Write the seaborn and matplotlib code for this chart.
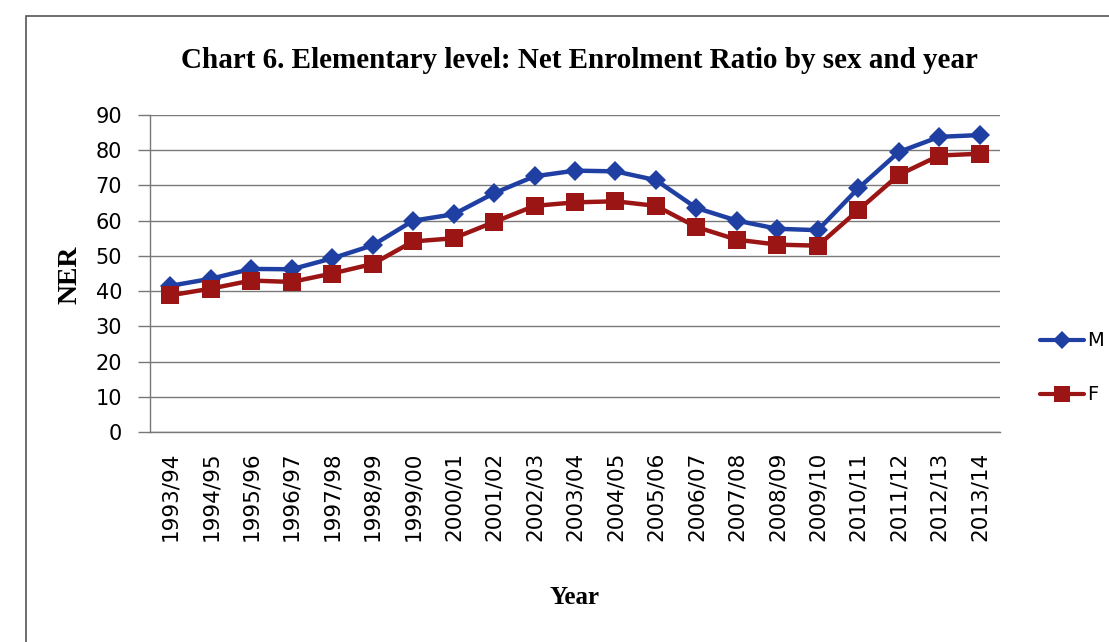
import pandas as pd
import matplotlib
matplotlib.use("Agg")
import matplotlib.pyplot as plt
from matplotlib.patches import Rectangle
import seaborn as sns

# data
years = ["1993/94", "1994/95", "1995/96", "1996/97", "1997/98", "1998/99", "1999/00",
         "2000/01", "2001/02", "2002/03", "2003/04", "2004/05", "2005/06", "2006/07",
         "2007/08", "2008/09", "2009/10", "2010/11", "2011/12", "2012/13", "2013/14"]
ner_m = [41.5, 43.5, 46.3, 46.2, 49.3, 53, 60, 61.8, 67.8, 72.6, 74.2, 74, 71.5, 63.6,
         60, 57.7, 57.3, 69.2, 79.5, 83.8, 84.3]
ner_f = [38.8, 40.7, 43, 42.6, 45, 47.7, 54.1, 55, 59.6, 64.2, 65.2, 65.5, 64.2, 58.2,
         54.6, 53.2, 52.9, 63, 73, 78.5, 79]
y_ticks = [0, 10, 20, 30, 40, 50, 60, 70, 80, 90]

df = pd.DataFrame({
    "Year": years * 2,
    "NER": ner_m + ner_f,
    "Sex": ["M"] * len(years) + ["F"] * len(years),
})
df["pos"] = list(range(len(years))) * 2

sns.set_style("white")
plt.rcParams["font.family"] = ["DejaVu Sans"]
plt.rcParams["text.color"] = "black"
plt.rcParams["axes.labelcolor"] = "black"
plt.rcParams["xtick.labelcolor"] = "black"
plt.rcParams["ytick.labelcolor"] = "black"

fig = plt.figure(figsize=(11.09, 6.42), dpi=100)
ax = fig.add_axes([150 / 1109, 1 - 432 / 642, 850 / 1109, 317 / 642])

palette = {"M": "#1f3fa3", "F": "#9b1515"}
sns.lineplot(data=df, x="pos", y="NER", hue="Sex", style="Sex",
             markers={"M": "D", "F": "s"}, dashes=False, palette=palette,
             linewidth=3.2, markersize=11, markeredgewidth=0, ax=ax, legend=False)
# Excel style marker sizes
for line, ms in zip(ax.get_lines(), [10, 13]):
    line.set_markersize(ms)

ax.set_xlim(-0.5, len(years) - 0.5)
ax.set_ylim(0, 90)
ax.set_yticks(y_ticks)
ax.set_yticklabels([str(t) for t in y_ticks], fontsize=15)
ax.set_xticks(range(len(years)))
ax.set_xticklabels(years, rotation=90, fontsize=15.5)
ax.set_xticks([i - 0.5 for i in range(len(years) + 1)], minor=True)
ax.tick_params(axis="x", which="major", length=0, pad=14)
ax.tick_params(axis="x", which="minor", length=9, width=1, color="#777777", direction="out")
ax.tick_params(axis="y", length=9, width=1, color="#777777", direction="out", pad=11, left=True)
ax.grid(axis="y", color="#7a7a7a", linewidth=1)
ax.set_axisbelow(True)
for side in ["top", "right"]:
    ax.spines[side].set_visible(False)
for side in ["left", "bottom"]:
    ax.spines[side].set_color("#777777")
    ax.spines[side].set_linewidth(1)

ax.set_xlabel("Year", fontsize=18, fontweight="bold", family="Liberation Serif")
ax.set_ylabel("NER", fontsize=20, fontweight="bold", family="Liberation Serif")
ax.xaxis.set_label_coords((575 - 150) / 850, (432 - 598) / 317)
ax.yaxis.set_label_coords((70 - 150) / 850, (432 - 275) / 317)
ax.xaxis.label.set_va("center")
ax.yaxis.label.set_va("center")
fig.text(579 / 1109, 1 - 60 / 642, "Chart 6. Elementary level: Net Enrolment Ratio by sex and year",
         ha="center", va="center", fontsize=21, fontweight="bold", family="Liberation Serif",
         color="black")

# legend outside on the right, as in the reference
handles = [plt.Line2D([], [], color=palette["M"], marker="D", markersize=9, lw=3, mew=0),
           plt.Line2D([], [], color=palette["F"], marker="s", markersize=12, lw=3, mew=0)]
fig.legend(handles, ["M", "F"], loc="center left", bbox_to_anchor=(1030 / 1109, 1 - 368 / 642),
           frameon=False, fontsize=14, handlelength=2.3, handletextpad=0.15, labelspacing=1.8,
           borderpad=0)

# chart area border
fig.add_artist(Rectangle((26 / 1109, -0.1), 1.2, 1.1 - 16 / 642, transform=fig.transFigure,
                         fill=False, edgecolor="#555555", linewidth=1.2))

fig.savefig("out.png", dpi=100)
